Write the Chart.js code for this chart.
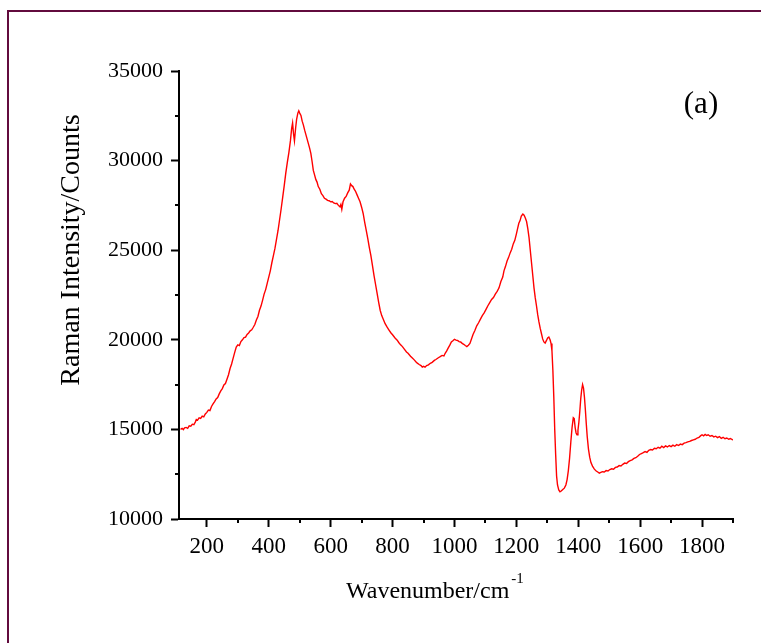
<!DOCTYPE html>
<html>
<head>
<meta charset="utf-8">
<title>Raman spectrum (a)</title>
<script src="https://cdn.jsdelivr.net/npm/chart.js@4.4.1/dist/chart.umd.min.js"></script>
<style>
  html, body { margin: 0; padding: 0; background: #ffffff; }
  #wrap { position: relative; width: 761px; height: 643px; overflow: hidden; }
  #frame { position: absolute; left: 7px; top: 10px; width: 800px; height: 700px;
           border-left: 2px solid #620b3d; border-top: 2px solid #620b3d; }
  #chart { position: absolute; left: 0; top: 0; }
</style>
</head>
<body>
<div id="wrap">
  <div id="frame"></div>
  <canvas id="chart" width="761" height="643"></canvas>
</div>
<script>
// Raman shift (cm^-1)
const wavenumber = [
  115, 120, 124, 128, 133, 138, 143, 148, 153, 158,
  163, 166, 170, 175, 180, 185, 190, 195, 200, 205,
  210, 215, 220, 225, 230, 235, 240, 245, 250, 255,
  260, 265, 270, 275, 280, 285, 290, 295, 300, 305,
  310, 315, 320, 325, 330, 335, 340, 345, 350, 355,
  360, 365, 370, 375, 380, 385, 390, 395, 400, 405,
  410, 415, 420, 425, 430, 435, 440, 445, 450, 455,
  460, 465, 470, 474, 477, 480, 483, 487, 490, 494,
  497, 500, 504, 508, 512, 516, 520, 524, 528, 532,
  536, 540, 544, 548, 552, 556, 560, 565, 570, 575,
  580, 585, 590, 595, 600, 605, 610, 615, 620, 625,
  630, 633, 636, 640, 645, 650, 655, 660, 664, 668,
  672, 676, 680, 685, 690, 695, 700, 705, 710, 715,
  720, 725, 730, 735, 740, 745, 750, 755, 760, 765,
  770, 776, 782, 788, 795, 800, 808, 815, 820, 826,
  832, 838, 845, 850, 858, 864, 870, 876, 880, 886,
  892, 896, 900, 905, 910, 916, 922, 928, 935, 940,
  948, 954, 960, 966, 970, 975, 980, 985, 990, 995,
  1000, 1005, 1010, 1015, 1020, 1025, 1030, 1035, 1040, 1045,
  1050, 1055, 1060, 1066, 1072, 1078, 1084, 1090, 1096, 1102,
  1108, 1114, 1120, 1126, 1132, 1138, 1144, 1150, 1156, 1160,
  1165, 1170, 1175, 1180, 1185, 1190, 1195, 1200, 1204, 1208,
  1212, 1216, 1221, 1225, 1229, 1233, 1237, 1241, 1245, 1249,
  1253, 1257, 1261, 1265, 1269, 1273, 1277, 1281, 1285, 1289,
  1293, 1297, 1301, 1305, 1309, 1312, 1315, 1318, 1321, 1324,
  1327, 1330, 1333, 1337, 1341, 1345, 1350, 1355, 1360, 1364,
  1368, 1372, 1376, 1380, 1384, 1387, 1390, 1393, 1396, 1399,
  1402, 1405, 1408, 1411, 1414, 1417, 1420, 1423, 1426, 1429,
  1433, 1437, 1441, 1446, 1452, 1458, 1463, 1468, 1473, 1478,
  1484, 1490, 1496, 1502, 1508, 1514, 1520, 1526, 1532, 1538,
  1544, 1550, 1556, 1562, 1568, 1574, 1580, 1586, 1592, 1598,
  1604, 1610, 1616, 1622, 1628, 1634, 1640, 1646, 1652, 1658,
  1664, 1670, 1676, 1682, 1688, 1694, 1700, 1706, 1712, 1718,
  1724, 1730, 1736, 1742, 1748, 1754, 1760, 1766, 1772, 1778,
  1784, 1790, 1796, 1800, 1805, 1810, 1815, 1820, 1826, 1832,
  1838, 1844, 1850, 1856, 1862, 1868, 1874, 1880, 1886, 1892,
  1898, 1900
];

// Measured intensity (counts)
const intensity = [
  15000, 15060, 14990, 15090, 15110, 15060, 15200, 15180, 15290, 15260,
  15420, 15550, 15520, 15640, 15610, 15740, 15700, 15860, 15950, 16080,
  16050, 16280, 16420, 16550, 16700, 16780, 16980, 17150, 17280, 17480,
  17560, 17800, 18050, 18400, 18650, 18980, 19300, 19600, 19720, 19680,
  19900, 20000, 20120, 20150, 20300, 20380, 20500, 20560, 20700, 20850,
  21100, 21300, 21650, 21880, 22200, 22550, 22800, 23150, 23500, 23850,
  24300, 24700, 25100, 25600, 26100, 26700, 27300, 27950, 28600, 29300,
  29900, 30450, 31100, 31800, 32100, 31500, 31100, 31850, 32300, 32650,
  32780, 32650, 32520, 32200, 31980, 31700, 31450, 31200, 30950, 30700,
  30400, 29950, 29450, 29200, 28950, 28800, 28550, 28400, 28150, 28050,
  27900, 27850, 27780, 27760, 27700, 27720, 27640, 27600, 27620, 27500,
  27420, 27550, 27280, 27700, 27900, 28000, 28200, 28350, 28700, 28600,
  28550, 28400, 28300, 28100, 27900, 27700, 27400, 27050, 26550, 26100,
  25650, 25150, 24700, 24150, 23600, 23100, 22600, 22100, 21650, 21350,
  21150, 20900, 20720, 20560, 20380, 20280, 20100, 19980, 19850, 19720,
  19620, 19480, 19320, 19250, 19080, 18980, 18880, 18760, 18700, 18620,
  18560, 18480, 18520, 18470, 18560, 18600, 18690, 18740, 18850, 18900,
  19000, 19060, 19130, 19100, 19250, 19380, 19550, 19700, 19880, 19950,
  20030, 19980, 19960, 19900, 19880, 19800, 19750, 19680, 19620, 19700,
  19800, 20050, 20300, 20520, 20780, 20950, 21150, 21350, 21500, 21700,
  21900, 22080, 22250, 22360, 22550, 22700, 22900, 23250, 23500, 23850,
  24100, 24400, 24600, 24850, 25050, 25350, 25550, 25900, 26200, 26500,
  26650, 26900, 27020, 26950, 26800, 26600, 26200, 25700, 25000, 24300,
  23600, 22900, 22350, 21900, 21400, 21000, 20650, 20350, 20050, 19880,
  19820, 19950, 20100, 20150, 20000, 19800, 19400, 18300, 16800, 15000,
  13600, 12400, 11900, 11620, 11520, 11560, 11650, 11720, 11900, 12200,
  12700, 13400, 14300, 15100, 15650, 15600, 15100, 14800, 14700, 14950,
  15400, 16000, 16700, 17200, 17500, 17300, 16800, 16100, 15300, 14600,
  13900, 13450, 13150, 12950, 12780, 12680, 12620, 12560, 12600, 12640,
  12620, 12700, 12680, 12760, 12800, 12780, 12880, 12900, 12980, 12960,
  13050, 13120, 13100, 13200, 13260, 13300, 13380, 13420, 13500, 13600,
  13650, 13700, 13760, 13720, 13830, 13880, 13850, 13950, 13920, 14000,
  13950, 14060, 13990, 14080, 14020, 14100, 14040, 14120, 14060, 14150,
  14100, 14180, 14150, 14230, 14260, 14300, 14330, 14380, 14420, 14450,
  14520, 14560, 14650, 14700, 14640, 14720, 14660, 14700, 14620, 14660,
  14580, 14620, 14540, 14600, 14500, 14560, 14480, 14520, 14450, 14490,
  14420, 14440
];

// Axis tick positions
const xMajorTicks = [200, 400, 600, 800, 1000, 1200, 1400, 1600, 1800];
const xMinorTicks = [300, 500, 700, 900, 1100, 1300, 1500, 1700, 1900];
const yMajorTicks = [10000, 15000, 20000, 25000, 30000, 35000];
const yMinorTicks = [12500, 17500, 22500, 27500, 32500];

const SERIF = '"Liberation Serif", "Times New Roman", Times, serif';

// Short outward minor ticks on both axes
const minorTicks = {
  id: 'minorTicks',
  afterDraw(chart) {
    const { ctx, chartArea, scales } = chart;
    ctx.save();
    ctx.strokeStyle = '#000';
    ctx.lineWidth = 2;
    ctx.beginPath();
    xMinorTicks.forEach(v => {
      const px = Math.round(scales.x.getPixelForValue(v));
      ctx.moveTo(px, chartArea.bottom);
      ctx.lineTo(px, chartArea.bottom + 4);
    });
    yMinorTicks.forEach(v => {
      const py = Math.round(scales.y.getPixelForValue(v));
      ctx.moveTo(chartArea.left, py);
      ctx.lineTo(chartArea.left - 4, py);
    });
    ctx.stroke();
    ctx.restore();
  }
};

// Axis titles and panel tag
const labels = {
  id: 'labels',
  afterDraw(chart) {
    const { ctx } = chart;
    ctx.save();
    ctx.fillStyle = '#000';
    ctx.textBaseline = 'alphabetic';

    // y-axis title
    ctx.save();
    ctx.translate(79, 250);
    ctx.rotate(-Math.PI / 2);
    ctx.textAlign = 'center';
    ctx.font = '28px ' + SERIF;
    ctx.fillText('Raman Intensity/Counts', 0, 0);
    ctx.restore();

    // x-axis title with superscript
    ctx.textAlign = 'left';
    ctx.font = '24px ' + SERIF;
    const base = 'Wavenumber/cm';
    ctx.fillText(base, 346, 598);
    const w = ctx.measureText(base).width;
    ctx.font = '15px ' + SERIF;
    ctx.fillText('-1', 346 + w + 2, 583);

    // panel tag
    ctx.font = '31px ' + SERIF;
    ctx.textAlign = 'center';
    ctx.fillText('(a)', 701, 113);
    ctx.restore();
  }
};

new Chart(document.getElementById('chart'), {
  type: 'line',
  data: {
    datasets: [{
      data: wavenumber.map((x, i) => ({ x, y: intensity[i] })),
      borderColor: '#ff0000',
      borderWidth: 1.4,
      pointRadius: 0,
      tension: 0,
      fill: false
    }]
  },
  options: {
    responsive: false,
    animation: false,
    devicePixelRatio: 1,
    layout: { padding: { left: 0, top: 71, right: 28, bottom: 84 } },
    plugins: { legend: { display: false }, tooltip: { enabled: false } },
    scales: {
      x: {
        type: 'linear',
        min: 110,
        max: 1900,
        afterBuildTicks(scale) { scale.ticks = xMajorTicks.map(v => ({ value: v })); },
        afterFit(scale) { scale.height = 40; },
        ticks: {
          color: '#000',
          font: { family: SERIF, size: 23 },
          padding: 6,
          maxRotation: 0,
          autoSkip: false,
          callback: v => String(v)
        },
        grid: { drawOnChartArea: false, drawTicks: true, tickLength: 8, tickColor: '#000', tickWidth: 2 },
        border: { display: true, color: '#000', width: 2 }
      },
      y: {
        type: 'linear',
        min: 10000,
        max: 35000,
        afterBuildTicks(scale) { scale.ticks = yMajorTicks.map(v => ({ value: v })); },
        afterFit(scale) { scale.width = 179; },
        ticks: {
          color: '#000',
          font: { family: SERIF, size: 22 },
          padding: 8,
          autoSkip: false,
          callback: v => String(v)
        },
        grid: { drawOnChartArea: false, drawTicks: true, tickLength: 8, tickColor: '#000', tickWidth: 2 },
        border: { display: true, color: '#000', width: 2 }
      }
    }
  },
  plugins: [minorTicks, labels]
});
</script>
</body>
</html>
